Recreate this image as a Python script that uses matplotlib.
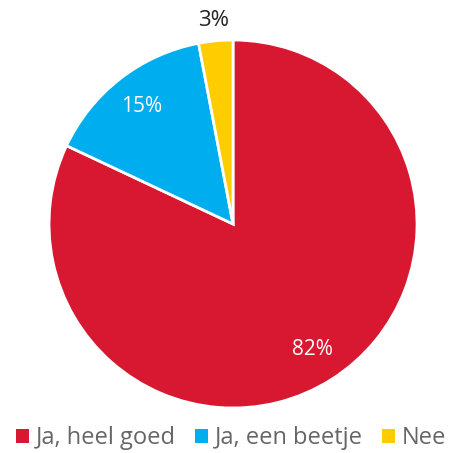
import matplotlib.pyplot as plt
from matplotlib.patches import Patch

labels = ["Ja, heel goed", "Ja, een beetje", "Nee"]
values = [82, 15, 3]
colors = ["#D71830", "#00AEEF", "#FFCC00"]

plt.rcParams['font.family'] = ['Open Sans', 'DejaVu Sans']

fig = plt.figure(figsize=(4.49, 4.53), dpi=100)
ax = fig.add_axes([0.519 - 0.4098, 0.5055 - 0.4062, 0.8196, 0.8124])

wedges, texts, autotexts = ax.pie(
    values, colors=colors, startangle=90, counterclock=False,
    autopct='%d%%', pctdistance=0.81,
    wedgeprops=dict(edgecolor='white', linewidth=2),
    textprops=dict(fontsize=15, color='white'))
# the small slice gets its label outside
autotexts[2].set_color('#222222')
autotexts[2].set_fontsize(16)
x, y = autotexts[2].get_position()
autotexts[2].set_position((x / 0.81 * 1.11, y / 0.81 * 1.11))
ax.set_aspect('equal')
ax.set_xlim(-1, 1)
ax.set_ylim(-1, 1)

handles = [Patch(facecolor=c, edgecolor='none') for c in colors]
fig.legend(handles, labels, loc='center', bbox_to_anchor=(0.515, 0.033),
           ncol=3, frameon=False, fontsize=17, labelcolor='#666666',
           handlelength=0.55, handleheight=0.55, handletextpad=0.3,
           columnspacing=0.8, borderaxespad=0)

fig.savefig("out.png", dpi=100)
